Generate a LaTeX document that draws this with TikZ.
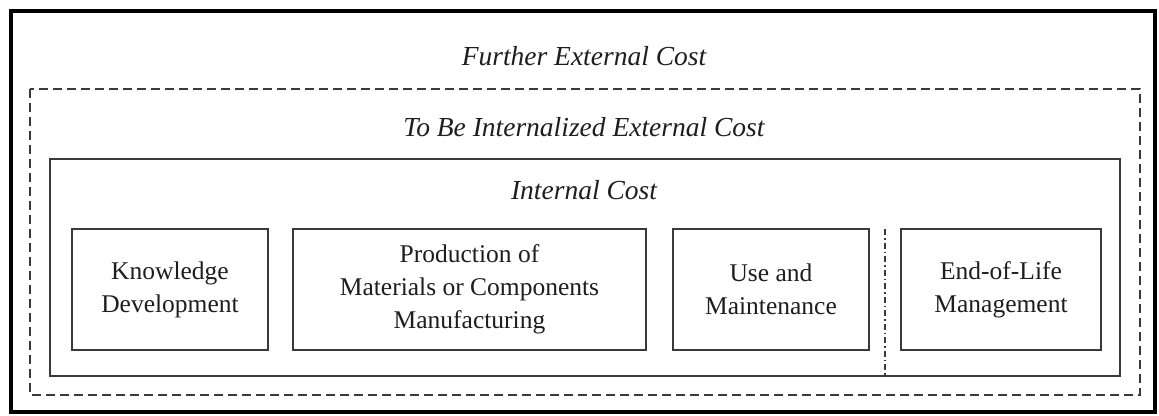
\documentclass[tikz,border=0pt]{standalone}
\usepackage{fontspec}
\setmainfont{Liberation Serif}
\usepackage{tikz}
\usetikzlibrary{shapes,arrows}
\definecolor{linegray}{HTML}{3A3A3A}
\definecolor{textgray}{HTML}{1E1E1E}
\tikzset{
	layerbox/.style={draw=linegray, line width=1.8pt},
	dashbox/.style={draw=linegray, line width=2pt, dash pattern=on 9pt off 5pt},
	stagebox/.style={draw=linegray, line width=1.8pt, fill=white},
	stagetext/.style={text=textgray, align=center, font=\fontsize{25.5}{33}\selectfont},
	layertext/.style={text=textgray, font=\fontsize{27.5}{30}\selectfont\itshape}
}

\begin{document}
\begin{tikzpicture}[x=1pt,y=-1pt]
	\useasboundingbox (0,0) rectangle (1159,415);

	% Further External Cost
	\draw [line width=4pt] (11,11) rectangle (1155,412);
	\node [layertext] (further) at (584,56) {Further External Cost};

	% To Be Internalized External Cost
	\draw [dashbox] (30,89) rectangle (1140,395);
	\node [layertext] (internalize) at (584,127) {To Be Internalized External Cost};

	% Internal Cost
	\draw [layerbox] (50,159) rectangle (1120,376);
	\node [layertext] (internal) at (584,190) {Internal Cost};

	% Stages
	\draw [stagebox] (72,229) rectangle (268,350) node [stagetext, pos=0.5] (know) {Knowledge\\Development};
	\draw [stagebox] (293,229) rectangle (646,350) node [stagetext, pos=0.5] (prod) {Production of\\Materials or Components\\Manufacturing};
	\draw [stagebox] (673,229) rectangle (869,350) node [stagetext, pos=0.5] (use) {Use and\\Maintenance};
	\draw [stagebox] (901,229) rectangle (1101,350) node [stagetext, pos=0.5] (eol) {End-of-Life\\Management};

	% Divider
	\coordinate (divtop) at (885,229);
	\coordinate (divbot) at (885,376);
	\draw [linegray, line width=1.5pt, dash pattern=on 6pt off 3pt on 1.5pt off 3pt] (divtop) -- (divbot);
\end{tikzpicture}
\end{document}
